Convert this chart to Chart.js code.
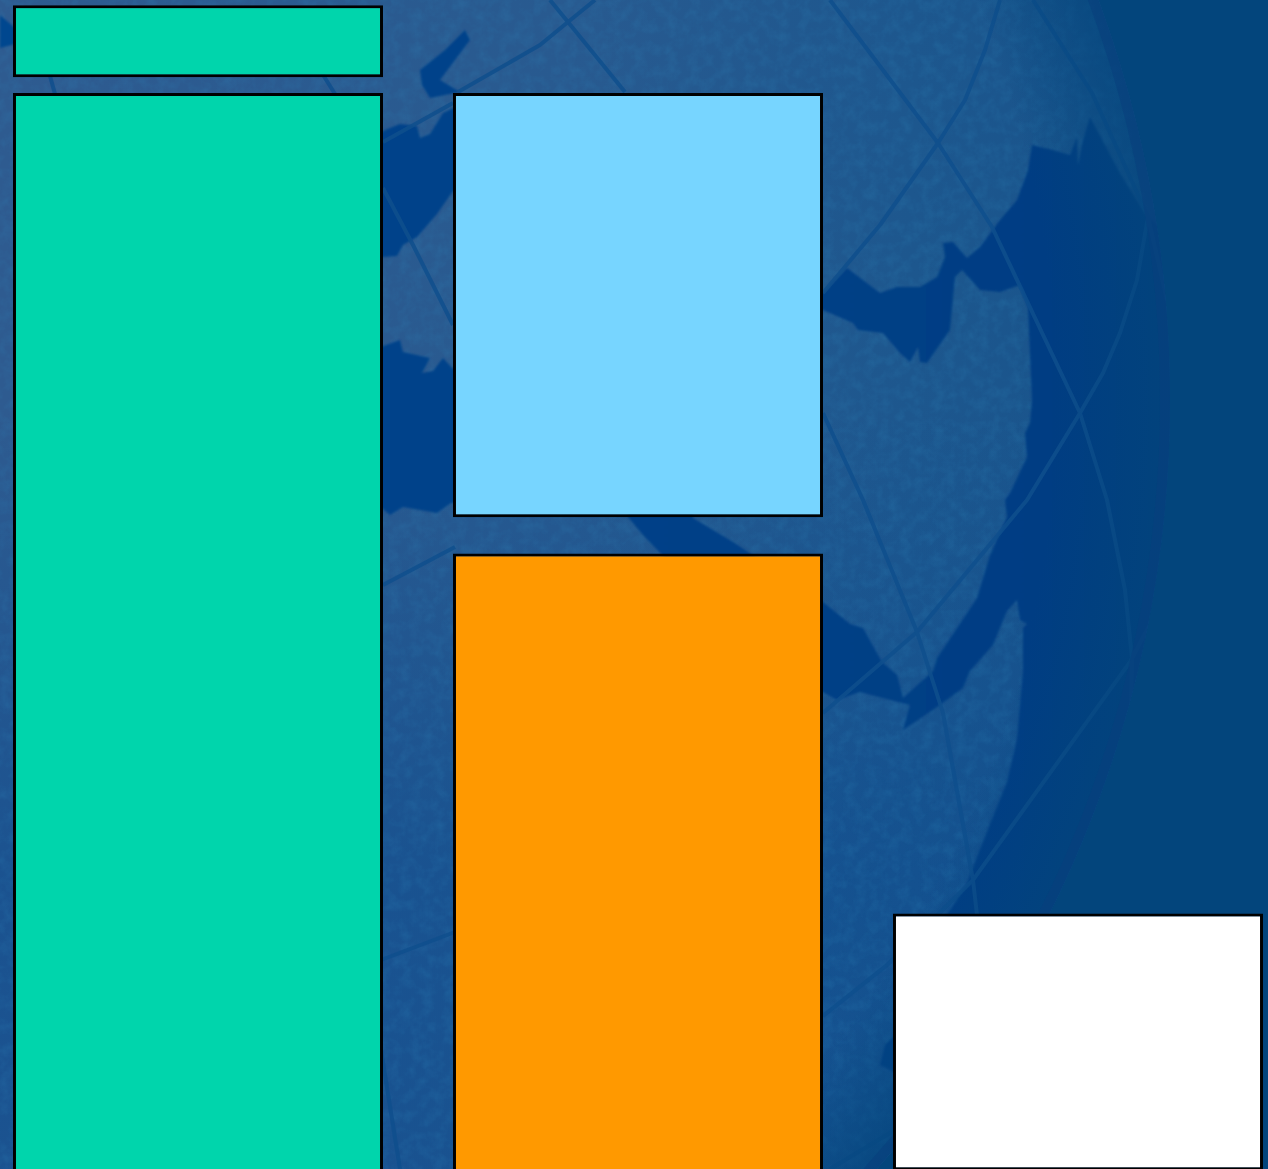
<!DOCTYPE html>
<html>
<head>
<meta charset="utf-8">
<title>Bars</title>
<script src="https://cdn.jsdelivr.net/npm/chart.js@4"></script>
<style>
  html, body { margin: 0; padding: 0; width: 1268px; height: 1169px; overflow: hidden; background: #03457c; }
  #backdrop { position: absolute; left: 0; top: 0; }
  #chartBox { position: absolute; left: -22px; top: 0; }
</style>
</head>
<body>
<!-- globe picture behind the bars -->
<svg id="backdrop" width="1268" height="1169" viewBox="0 0 1268 1169">
  <defs>
    <linearGradient id="land" x1="0" x2="1" y1="0" y2="0">
      <stop offset="0" stop-color="#2e5b90"/>
      <stop offset="0.45" stop-color="#285a90"/>
      <stop offset="0.72" stop-color="#1d578e"/>
      <stop offset="1" stop-color="#15518a"/>
    </linearGradient>
    <linearGradient id="lower" x1="0" x2="0" y1="0" y2="1">
      <stop offset="0.35" stop-color="#0e4d90" stop-opacity="0"/>
      <stop offset="0.75" stop-color="#0e4d90" stop-opacity="0.6"/>
      <stop offset="1" stop-color="#0e4d90" stop-opacity="0.6"/>
    </linearGradient>
    <linearGradient id="sea" gradientUnits="userSpaceOnUse" x1="0" x2="1268" y1="0" y2="0">
      <stop offset="0" stop-color="#03478f"/>
      <stop offset="0.8" stop-color="#043e84"/>
      <stop offset="1" stop-color="#063c7c"/>
    </linearGradient>
    <radialGradient id="limb" gradientUnits="userSpaceOnUse" cx="15" cy="400" r="1155">
      <stop offset="0.9" stop-color="#03457c" stop-opacity="0"/>
      <stop offset="1" stop-color="#03457c" stop-opacity="0.75"/>
    </radialGradient>
    <clipPath id="globe"><circle cx="15" cy="400" r="1155"/></clipPath>
    <filter id="mottle" x="0" y="0" width="100%" height="100%">
      <feTurbulence type="fractalNoise" baseFrequency="0.09" numOctaves="4" seed="7"/>
      <feColorMatrix values="0 0 0 0 0.03  0 0 0 0 0.27  0 0 0 0 0.53  0 0 0 0.9 -0.34"/>
    </filter>
    <filter id="soft"><feGaussianBlur stdDeviation="1.3"/></filter>
  </defs>
  <rect width="1268" height="1169" fill="#03457c"/>
  <g clip-path="url(#globe)">
    <rect width="1268" height="1169" fill="url(#land)"/>
    <rect width="1268" height="1169" fill="url(#lower)"/>
    <rect width="1268" height="1169" filter="url(#mottle)" opacity="0.4"/>
    <g fill="url(#sea)" filter="url(#soft)">
      <polygon points="1090,117 1083,140 1078,165 1077,137 1070,155 1053,150 1032,145 1028,170 1017,200 1000,220 980,247 967,258 953,242 943,243 945,257 937,277 920,287 897,287 880,293 847,268 823,293 800,300 800,305 823,310 853,323 858,330 883,333 900,353 910,362 918,347 920,362 927,363 950,330 955,277 962,270 980,290 1000,292 1020,285 1028,307 1032,400 1030,423 1025,433 1027,457 1010,493 1005,500 1007,517 990,555 977,598 963,619 937,658 933,671 903,698 897,675 882,662 863,628 850,624 823,602 800,590 800,690 823,692 837,700 860,692 910,705 903,730 940,705 963,688 970,671 993,645 1007,611 1017,600 1020,620 1027,624 1023,628 1023,671 1017,739 1007,782 990,824 973,867 967,884 950,910 930,940 1000,1169 1268,1169 1268,300 1147,217 1120,173"/>
      <polygon points="370,140 385,130 400,124 417,126 420,138 430,134 443,113 470,100 470,190 453,191 437,214 417,237 403,245 397,256 370,258"/>
      <polygon points="370,346 383,346 400,340 403,352 430,358 422,373 433,371 443,358 453,369 470,354 470,501 451,503 437,513 403,507 390,515 383,509 370,509"/>
      <polygon points="422,85 420,70 445,50 465,30 470,40 455,60 440,80 460,92 430,98"/>
      <polygon points="628,510 628,517 643,535 667,560 760,560 733,542 693,518 693,510"/>
      <polygon points="880,1065 885,1045 900,1030 900,1075"/>
      <polygon points="0,15 15,28 30,40 0,48"/>
    </g>
    <g fill="none" stroke="#0f4f8d" stroke-width="4" stroke-linejoin="round" opacity="0.85">
      <polyline points="830,0 938,143 992,227 1080,413 1107,500 1125,590 1132,658 1130,760"/>
      <polyline points="1000,0 985,50 965,100 938,143 880,225 823,293"/>
      <polyline points="1033,0 1092,93 1148,217 1167,300"/>
      <polyline points="1148,217 1137,280 1120,333 1103,373 1080,413 1027,500 917,632 823,713"/>
      <polyline points="823,413 863,500 917,632 943,713 973,880 977,915"/>
      <polyline points="1157,611 1130,662 973,880 887,965 823,1016"/>
      <polyline points="895,1130 830,1169"/>
      <polyline points="383,142 453,103"/>
      <polyline points="383,188 413,245 453,325"/>
      <polyline points="383,585 455,547"/>
      <polyline points="381,960 455,932"/>
      <polyline points="381,1050 400,1169"/>
      <polyline points="550,0 568,22 625,92"/>
      <polyline points="595,0 568,22 540,45 458,92"/>
      <polyline points="50,76 55,94"/>
      <polyline points="320,70 335,94"/>
    </g>
    <rect width="1268" height="1169" fill="url(#limb)"/>
  </g>
  <circle cx="15" cy="400" r="1150" fill="none" stroke="#083f7d" stroke-width="10" opacity="0.6"/>
</svg>

<div id="chartBox"><canvas id="barChart" width="1320" height="1169"></canvas></div>

<script>
const categories = ['A', 'B', 'C'];

// each segment floats between a low and a high value (share of the axis, 0-100)
// first two bars run on past the bottom of the picture
const lowerFrom = [-2, -2, -0.1];
const lowerTo = [92.05, 52.65, 21.85];
const upperFrom = [93.4, 55.75, null];
const upperTo = [99.55, 92.05, null];

const lowerColors = ['#00d5ac', '#ff9900', '#ffffff'];
const upperColors = ['#00d5ac', '#77d5ff', '#ffffff'];

function segments(from, to) {
  return from.map((v, i) => (v === null ? null : [v, to[i]]));
}

const ctx = document.getElementById('barChart').getContext('2d');
const barChart = new Chart(ctx, {
  type: 'bar',
  data: {
    labels: categories,
    datasets: [
      {
        label: 'Lower',
        data: segments(lowerFrom, lowerTo),
        backgroundColor: lowerColors,
        borderColor: '#000000',
        borderWidth: 3,
        borderSkipped: false,
      },
      {
        label: 'Upper',
        data: segments(upperFrom, upperTo),
        backgroundColor: upperColors,
        borderColor: '#000000',
        borderWidth: 3,
        borderSkipped: false,
      },
    ],
  },
  options: {
    responsive: false,
    animation: false,
    devicePixelRatio: 1,
    categoryPercentage: 0.841,
    barPercentage: 1,
    layout: { padding: 0 },
    plugins: {
      legend: { display: false },
      tooltip: { enabled: false },
      title: { display: false },
    },
    scales: {
      x: { display: false, stacked: true },
      y: { display: false, min: 0, max: 100 },
    },
  },
});
</script>
</body>
</html>
